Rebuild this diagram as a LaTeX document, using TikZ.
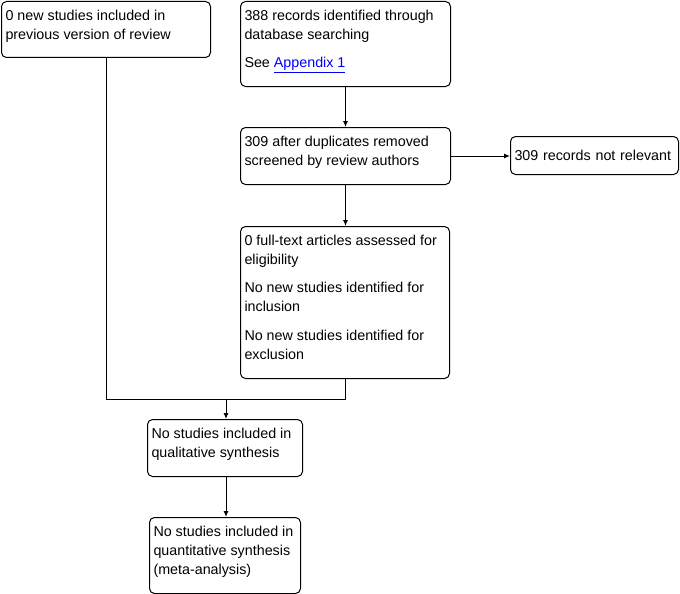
\documentclass[tikz,border=0pt]{standalone}
\usepackage{fontspec}
\setmainfont{Liberation Sans}
\usepackage{xcolor}
\usetikzlibrary{arrows.meta,positioning,calc}
\definecolor{linkBlue}{HTML}{0000FF}
\newcommand{\boxtxt}[3]{\parbox[c][#2][t]{#1}{\raggedright\setlength{\parskip}{9.5pt}#3}}

\begin{document}
\begin{tikzpicture}[x=1pt,y=-1pt,>={Latex[length=6pt,width=5pt]},line width=1pt,
  flowbox/.style={draw,rounded corners=5pt,anchor=north west,inner xsep=4pt,inner ysep=8.5pt,
    font=\fontsize{14.3}{19}\selectfont}]
\useasboundingbox (0,0) rectangle (680,594);
\node[flowbox] (prev) at (1,1) {\boxtxt{201pt}{39pt}{0 new studies included in\\previous version of review}};
\node[flowbox] (recs) at (240,1) {\boxtxt{202pt}{68pt}{388 records identified through\\database searching\par See \textcolor{linkBlue}{\underline{Appendix 1}}}};
\node[flowbox] (dedup) at (240,127) {\boxtxt{202pt}{40pt}{309 after duplicates removed\\screened by review authors}};
\node[flowbox,inner ysep=0pt,minimum height=38pt,text width=160pt,align=left] (notrel) at (510,136) {309 records not relevant};
\node[flowbox] (full) at (240,226) {\boxtxt{201pt}{135pt}{0 full-text articles assessed for\\eligibility\par No new studies identified for\\inclusion\par No new studies identified for\\exclusion}};
\node[flowbox] (qual) at (147,419) {\boxtxt{147pt}{40pt}{No studies included in\\qualitative synthesis}};
\node[flowbox] (quant) at (149,517) {\boxtxt{143pt}{59pt}{No studies included in\\quantitative synthesis\\(meta-analysis)}};
\coordinate (join) at (226,399);
\draw[->] (recs) -- (recs |- dedup.north);
\draw[->] (dedup.east) -- (dedup.east -| notrel.west);
\draw[->] (dedup) -- (dedup |- full.north);
\draw (prev.south) |- (join);
\draw (full.south) |- (join);
\draw[->] (join) -- (join |- qual.north);
\draw[->] (join |- qual.south) -- (join |- quant.north);
\end{tikzpicture}
\end{document}
